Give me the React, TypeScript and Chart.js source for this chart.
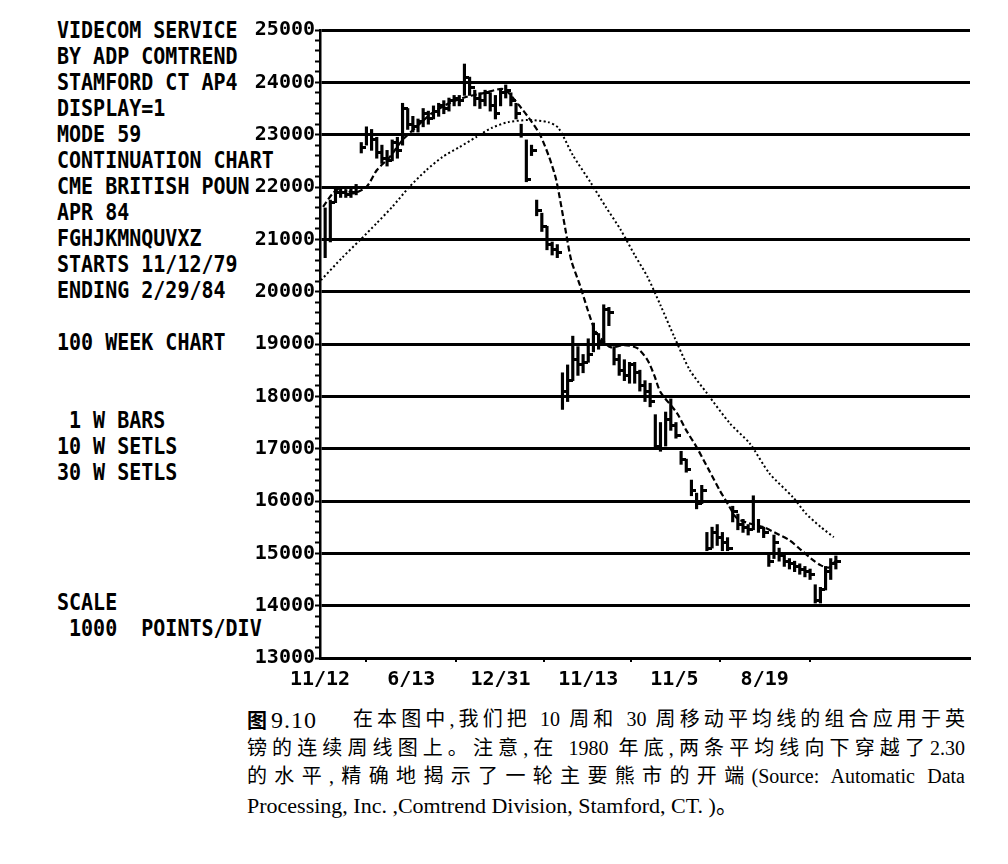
import { useEffect, useRef } from "react";
import Chart from "chart.js/auto";

// weekly bars, week 1..100
const HIGHS = [
  21600, 21750, 22000, 22000, 21950, 22000, 22050, 22850, 23150, 23100,
  22950, 22800, 22700, 22900, 22950, 23600, 23500, 23350, 23300, 23500,
  23450, 23550, 23600, 23650, 23700, 23750, 23750, 24350, 24100, 23850,
  23800, 23850, 23800, 23750, 23850, 23950, 23800, 23600, 23200, 22900,
  22800, 21750, 21500, 21250, 20950, 20900, 18450, 18600, 19150, 18950,
  18800, 19100, 19400, 19200, 19750, 19700, 18950, 18800, 18700, 18650,
  18650, 18500, 18300, 18250, 17650, 17500, 17700, 17950, 17500, 16950,
  16800, 16400, 16150, 16300, 15400, 15500, 15550, 15400, 15300, 15900,
  15750, 15650, 15550, 16100, 15650, 15500, 15000, 15350, 15100, 15000,
  14900, 14850, 14800, 14750, 14700, 14400, 14350, 14750, 14900, 14950,
];
const LOWS = [
  20650, 20950, 21700, 21800, 21800, 21800, 21850, 22650, 22800, 22700,
  22550, 22450, 22400, 22500, 22550, 22800, 23100, 23050, 23050, 23150,
  23200, 23300, 23350, 23400, 23450, 23550, 23550, 23750, 23750, 23550,
  23500, 23550, 23450, 23300, 23550, 23700, 23550, 23300, 22950, 22100,
  22600, 21450, 21150, 20800, 20700, 20650, 17750, 17900, 18300, 18400,
  18450, 18650, 18850, 18900, 19000, 19350, 18600, 18400, 18300, 18250,
  18250, 18100, 17900, 17800, 17000, 16950, 17050, 17350, 17200, 16700,
  16550, 16100, 15850, 15950, 15050, 15100, 15150, 15050, 15050, 15600,
  15450, 15400, 15350, 15450, 15400, 15300, 14750, 14900, 14850, 14750,
  14700, 14650, 14600, 14550, 14500, 14050, 14050, 14300, 14500, 14700,
];
const CLOSES = [
  21000, 21700, 21900, 21900, 21850, 21900, 22000, 22750, 23000, 22900,
  22650, 22550, 22500, 22850, 22700, 23500, 23200, 23150, 23250, 23400,
  23300, 23450, 23550, 23500, 23650, 23700, 23650, 24100, 23900, 23700,
  23650, 23800, 23550, 23400, 23800, 23850, 23650, 23400, 23000, 22150,
  22700, 21550, 21250, 20900, 20800, 20750, 18100, 18300, 18700, 18600,
  18650, 18800, 19200, 19050, 19650, 19600, 18700, 18500, 18400, 18600,
  18450, 18200, 18100, 17900, 17050, 17000, 17550, 17450, 17250, 16800,
  16600, 16200, 15950, 16200, 15100, 15400, 15300, 15200, 15100, 15800,
  15550, 15500, 15450, 16000, 15500, 15400, 14850, 15200, 14950, 14850,
  14800, 14750, 14700, 14650, 14600, 14100, 14300, 14650, 14800, 14850,
];

// 10 week settlement average, sampled along the drawn line
const MA10_WEEKS = [
  0.6, 2.5, 4.4, 6.3, 9, 11, 13.5, 16, 18.7, 21.7, 25, 28.3, 32, 35.6, 38.5,
  41, 42.7, 44.5, 45.8, 47.5, 48.7, 50.4, 51.9, 53.3, 54.5, 56.3, 59, 61.5,
  63.5, 64.8, 66, 69.2, 71, 73, 75.4, 77.5, 79.2, 80.8, 83.3, 86, 88.5, 91,
  93.3, 95.2, 97.1, 98.7, 100,
];
const MA10 = [
  21620, 21880, 22000, 21880, 22000, 22320, 22570, 22900, 23150, 23410,
  23600, 23720, 23800, 23870, 23570, 23250, 22990, 22550, 22130, 21230,
  20600, 20120, 19650, 19260, 19100, 18940, 18980, 18920, 18690, 18400,
  18080, 17680, 17350, 17030, 16590, 16200, 15920, 15670, 15570, 15500,
  15380, 15250, 15060, 14900, 14770, 14730, 14860,
];

// 30 week settlement average
const MA30_WEEKS = [
  0.2, 4.4, 7.7, 11, 14, 17.3, 20.6, 23.7, 27, 30.2, 33.3, 36.5, 40.4, 44.2,
  46.2, 49, 52.5, 55.4, 58.3, 61, 63.5, 66, 68.7, 71.7, 75, 79.4, 83.3, 87.1,
  91.7, 94.2, 97.1, 99.6,
];
const MA30 = [
  20220, 20660, 20980, 21310, 21620, 22000, 22320, 22570, 22760, 22950,
  23130, 23240, 23280, 23240, 23130, 22610, 22080, 21620, 21180, 20700,
  20280, 19740, 19130, 18500, 18060, 17490, 17100, 16530, 16070, 15760,
  15500, 15310,
];

const X_TICK_WEEKS = [0, 17.7, 35, 52, 68.7, 86.2];
const X_TICK_LABELS = ["11/12", "6/13", "12/31", "11/13", "11/5", "8/19"];

const LEFT_LINES = [
  "VIDECOM SERVICE",
  "BY ADP COMTREND",
  "STAMFORD CT AP4",
  "DISPLAY=1",
  "MODE 59",
  "CONTINUATION CHART",
  "CME BRITISH POUN",
  "APR 84",
  "FGHJKMNQUVXZ",
  "STARTS 11/12/79",
  "ENDING 2/29/84",
  "",
  "100 WEEK CHART",
  "",
  "",
  " 1 W BARS",
  "10 W SETLS",
  "30 W SETLS",
  "",
  "",
  "",
  "",
  "SCALE",
  " 1000  POINTS/DIV",
];

const MONO = '"DejaVu Sans Mono", monospace';
const SERIF = '"Liberation Serif", "Noto Sans CJK SC", serif';

function WeeklyChart() {
  const chartRef = useRef<HTMLCanvasElement>(null);

  useEffect(() => {
    if (!chartRef.current) return;

    // close tick sticking out to the right of each bar
    const tick = document.createElement("canvas");
    tick.width = 10;
    tick.height = 3;
    const tctx = tick.getContext("2d")!;
    tctx.fillStyle = "#000";
    tctx.fillRect(5, 0, 5, 3);

    const chart = new Chart(chartRef.current, {
      type: "bar",
      data: {
        datasets: [
          {
            type: "line",
            label: "10 W SETLS",
            data: MA10_WEEKS.map((w, i) => ({ x: w, y: MA10[i] })),
            borderColor: "#000",
            borderWidth: 2.2,
            borderDash: [6, 3],
            pointRadius: 0,
            tension: 0.25,
          },
          {
            type: "line",
            label: "30 W SETLS",
            data: MA30_WEEKS.map((w, i) => ({ x: w, y: MA30[i] })),
            borderColor: "#000",
            borderWidth: 2,
            borderDash: [2, 2.5],
            pointRadius: 0,
            tension: 0.25,
          },
          {
            type: "line",
            label: "close",
            data: CLOSES.map((c, i) => ({ x: i + 1, y: c })),
            showLine: false,
            pointStyle: tick,
          },
          {
            type: "bar",
            label: "1 W BARS",
            data: HIGHS.map((h, i) => ({ x: i + 1, y: [LOWS[i], h] })) as any,
            backgroundColor: "#000",
            borderWidth: 0,
            barThickness: 2.5,
          },
        ],
      },
      options: {
        responsive: true,
        maintainAspectRatio: false,
        animation: false,
        layout: { padding: { top: 30, left: 0, right: 0, bottom: 0 } },
        plugins: {
          legend: { display: false },
          tooltip: { enabled: false },
        },
        scales: {
          x: {
            type: "linear",
            min: 0,
            max: 126,
            offset: false,
            afterBuildTicks: (s: any) => {
              s.ticks = X_TICK_WEEKS.map((v) => ({ value: v }));
            },
            afterFit: (s: any) => {
              s.height = 42;
            },
            ticks: {
              autoSkip: false,
              maxRotation: 0,
              padding: 6,
              color: "#000",
              font: { family: MONO, size: 20, weight: "bold" },
              callback: (_v: any, i: number) => X_TICK_LABELS[i],
            },
            grid: {
              drawOnChartArea: false,
              tickLength: 4,
              color: "#000",
              lineWidth: 2,
            },
            border: { display: true, color: "#000", width: 3 },
          },
          y: {
            type: "linear",
            min: 13000,
            max: 25000,
            afterFit: (s: any) => {
              s.width = 70;
            },
            ticks: {
              stepSize: 200,
              autoSkip: false,
              padding: 0,
              color: "#000",
              font: { family: MONO, size: 20, weight: "bold" },
              callback: (v: any) => (Number(v) % 1000 === 0 ? String(v) : ""),
            },
            grid: {
              color: (c: any) =>
                c.tick && c.tick.value % 1000 === 0 ? "#000" : "rgba(0,0,0,0)",
              lineWidth: (c: any) =>
                c.tick && c.tick.value % 1000 === 0 ? 3 : 1,
              tickColor: "#000",
              tickWidth: 2,
              tickLength: 5,
            },
            border: { display: true, color: "#000", width: 2.5 },
          },
        },
      },
    } as any);

    return () => {
      chart.destroy();
    };
  }, []);

  return (
    <div style={{ position: "absolute", left: 250, top: 0, width: 725, height: 700 }}>
      <canvas ref={chartRef}></canvas>
    </div>
  );
}

export default function App() {
  const cap: React.CSSProperties = {
    position: "absolute",
    fontFamily: SERIF,
    fontSize: 20,
    height: 29,
    lineHeight: "29px",
    color: "#000",
    whiteSpace: "nowrap",
  };
  const just: React.CSSProperties = {
    ...cap,
    textAlign: "justify",
    textAlignLast: "justify",
    whiteSpace: "normal",
    overflow: "hidden",
  };

  return (
    <div
      style={{
        position: "absolute",
        left: 0,
        top: 0,
        width: 1008,
        height: 864,
        background: "#fff",
        overflow: "hidden",
      }}
    >
      <div
        style={{
          position: "absolute",
          left: 57,
          top: 17,
          fontFamily: MONO,
          fontWeight: "bold",
          fontSize: 20,
          lineHeight: "26px",
          whiteSpace: "pre",
          color: "#000",
        }}
      >
        {LEFT_LINES.map((t, i) => (
          <div key={i} style={{ height: 26, transform: "scaleY(1.12)" }}>
            {t}
          </div>
        ))}
      </div>

      <WeeklyChart />

      <div lang="zh-CN">
        <div style={{ ...cap, left: 247, top: 705, fontWeight: "bold", fontFamily: '"Noto Sans CJK SC", sans-serif' }}>
          图
          <span style={{ fontFamily: SERIF, fontWeight: "normal", fontSize: 24, marginLeft: 4, letterSpacing: 1 }}>
            9.10
          </span>
        </div>
        <div style={{ ...just, left: 353, top: 705, width: 612 }}>
          在本图中,我们把 10 周和 30 周移动平均线的组合应用于英
        </div>
        <div style={{ ...just, left: 247, top: 734, width: 718 }}>
          镑的连续周线图上。注意,在 1980 年底,两条平均线向下穿越了2.30
        </div>
        <div style={{ ...just, left: 247, top: 762, width: 718 }}>
          的水平,精确地揭示了一轮主要熊市的开端(Source: Automatic Data
        </div>
        <div style={{ ...cap, left: 247, top: 791, fontSize: 22 }}>
          Processing, Inc. ,Comtrend Division, Stamford, CT. )。
        </div>
      </div>
    </div>
  );
}
